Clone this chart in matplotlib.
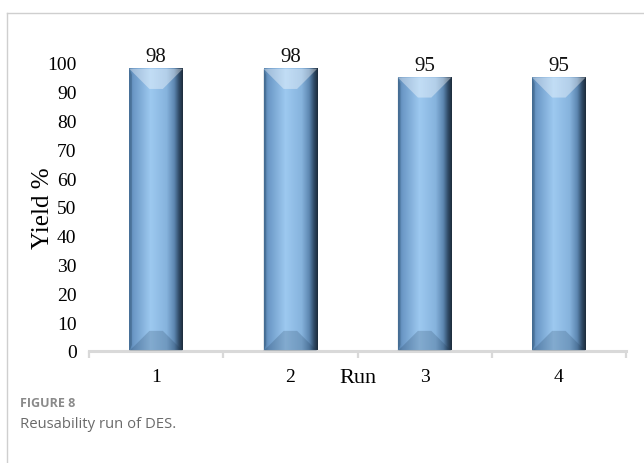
import numpy as np
import matplotlib.pyplot as plt
from matplotlib.colors import LinearSegmentedColormap
from matplotlib.patches import Polygon
from matplotlib.lines import Line2D

# yield (%) for each reuse run
runs = ["1", "2", "3", "4"]
yields = [98, 98, 95, 95]

serif = "Liberation Serif"
fig = plt.figure(figsize=(6.44, 4.64), dpi=100)
ax = fig.add_axes([89 / 644, 1 - 352 / 464, 537 / 644, 288 / 464])

# horizontal shading of the bars (dark left edge, light centre, dark right edge)
bar_cmap = LinearSegmentedColormap.from_list("bar", [
    (0.00, "#4f7ba5"), (0.08, "#6b98c6"), (0.40, "#9dc9f0"),
    (0.70, "#86b3dd"), (0.84, "#5d87b1"), (0.93, "#2f4a66"), (1.00, "#1c2b3b")])
grad = np.linspace(0, 1, 256).reshape(1, -1)

width = 0.4
depth = 7.0      # bevel height in data units
inset = 0.15     # bevel width in data units
for i, v in enumerate(yields):
    x0, x1 = i - width / 2, i + width / 2
    ax.imshow(grad, cmap=bar_cmap, aspect="auto", extent=[x0, x1, 0, v],
              interpolation="bilinear", zorder=2)
    # top bevel - lighter
    ax.add_patch(Polygon([(x0, v), (x1, v), (x1 - inset, v - depth), (x0 + inset, v - depth)],
                         closed=True, facecolor="white", alpha=0.38, edgecolor="none", zorder=3))
    # bottom bevel - darker
    ax.add_patch(Polygon([(x0, 0), (x1, 0), (x1 - inset, depth), (x0 + inset, depth)],
                         closed=True, facecolor="#1a3550", alpha=0.2, edgecolor="none", zorder=3))
    # thin side bevels
    ax.add_patch(Polygon([(x0, 0), (x0 + 0.02, depth * 0.3), (x0 + 0.02, v - depth * 0.3), (x0, v)],
                         closed=True, facecolor="#1e3a56", alpha=0.25, edgecolor="none", zorder=3))
    ax.text(i, v + 0.8, str(v), ha="center", va="bottom", fontsize=15,
            family=serif, color="#111111")

ax.set_xlim(-0.5, len(runs) - 0.5)
ax.set_ylim(0, 100)
ax.set_yticks(range(0, 101, 10))
ax.set_xticks(range(len(runs)))
ax.set_xticklabels(runs)
ax.set_xticks([k - 0.5 for k in range(len(runs) + 1)], minor=True)

for s in ["top", "right", "left"]:
    ax.spines[s].set_visible(False)
ax.spines["bottom"].set_color("#d9d9d9")
ax.spines["bottom"].set_linewidth(2.2)
ax.tick_params(axis="x", which="major", length=0, pad=12, labelsize=14)
ax.tick_params(axis="x", which="minor", length=5, width=1.6, color="#d9d9d9")
ax.tick_params(axis="y", length=0, pad=9, labelsize=14)
for lab in ax.get_xticklabels() + ax.get_yticklabels():
    lab.set_family(serif)

ax.set_xlabel("Run", family=serif, fontsize=16, labelpad=-12)
ax.set_ylabel("Yield %", family=serif, fontsize=18, labelpad=-5)

# panel frame
fig.add_artist(Line2D([7 / 644, 1], [1 - 14 / 464, 1 - 14 / 464], color="#cfcfcf", lw=1))
fig.add_artist(Line2D([7 / 644, 7 / 644], [0, 1 - 14 / 464], color="#cfcfcf", lw=1))

# caption
fig.text(20 / 644, 1 - 404 / 464, "FIGURE 8", family="Open Sans", fontsize=9,
         fontweight="bold", color="#8a8a8a", va="center")
fig.text(20 / 644, 1 - 424 / 464, "Reusability run of DES.", family="Open Sans",
         fontsize=10.7, color="#6a6a6a", va="center")

fig.savefig("out.png", dpi=100)
